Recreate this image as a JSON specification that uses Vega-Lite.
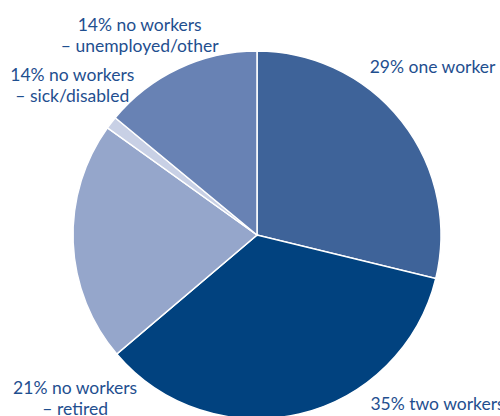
{
  "$schema": "https://vega.github.io/schema/vega-lite/v6.json",
  "width": 514,
  "height": 470,
  "padding": 0,
  "autosize": {"type": "none"},
  "background": "white",
  "config": {"view": {"stroke": null}, "text": {"font": "Lato", "fontSize": 17.5, "color": "#1f4f8f", "lineBreak": "\n", "lineHeight": 21, "baseline": "alphabetic"}},
  "data": {"values": [
    {"idx": 1, "category": "one worker", "share": 28.8, "label": "29% one worker"},
    {"idx": 2, "category": "two workers", "share": 35.0, "label": "35% two workers"},
    {"idx": 3, "category": "no workers – retired", "share": 21.1, "label": "21% no workers\n– retired"},
    {"idx": 4, "category": "no workers – sick/disabled", "share": 1.1, "label": "14% no workers\n– sick/disabled"},
    {"idx": 5, "category": "no workers – unemployed/other", "share": 14.0, "label": "14% no workers\n– unemployed/other"}
  ]},
  "encoding": {
    "theta": {"field": "share", "type": "quantitative", "stack": true},
    "order": {"field": "idx", "type": "quantitative"},
    "detail": {"field": "category", "type": "nominal"}
  },
  "layer": [
    {
      "mark": {"type": "arc", "outerRadius": 184, "stroke": "white", "strokeWidth": 1.5},
      "encoding": {
        "color": {"field": "category", "type": "nominal", "legend": null,
          "scale": {"domain": ["one worker", "two workers", "no workers – retired", "no workers – sick/disabled", "no workers – unemployed/other"],
                    "range": ["#3e6399", "#01427f", "#95a6cb", "#c8d0e5", "#6882b4"]}}
      }
    },
    {
      "mark": {"type": "text", "radius": 184, "align": "left", "dx": -32, "dy": -48},
      "encoding": {"text": {"condition": {"test": "datum.idx === 1", "field": "label", "type": "nominal"}, "value": ""}}
    },
    {
      "mark": {"type": "text", "radius": 184, "align": "left", "dx": 71, "dy": -4},
      "encoding": {"text": {"condition": {"test": "datum.idx === 2", "field": "label", "type": "nominal"}, "value": ""}}
    },
    {
      "mark": {"type": "text", "radius": 184, "align": "center", "dx": 2, "dy": 151},
      "encoding": {"text": {"condition": {"test": "datum.idx === 3", "field": "label", "type": "nominal"}, "value": ""}}
    },
    {
      "mark": {"type": "text", "radius": 184, "align": "center", "dx": -39, "dy": -42},
      "encoding": {"text": {"condition": {"test": "datum.idx === 4", "field": "label", "type": "nominal"}, "value": ""}}
    },
    {
      "mark": {"type": "text", "radius": 184, "align": "center", "dx": -39, "dy": -38},
      "encoding": {"text": {"condition": {"test": "datum.idx === 5", "field": "label", "type": "nominal"}, "value": ""}}
    }
  ]
}
